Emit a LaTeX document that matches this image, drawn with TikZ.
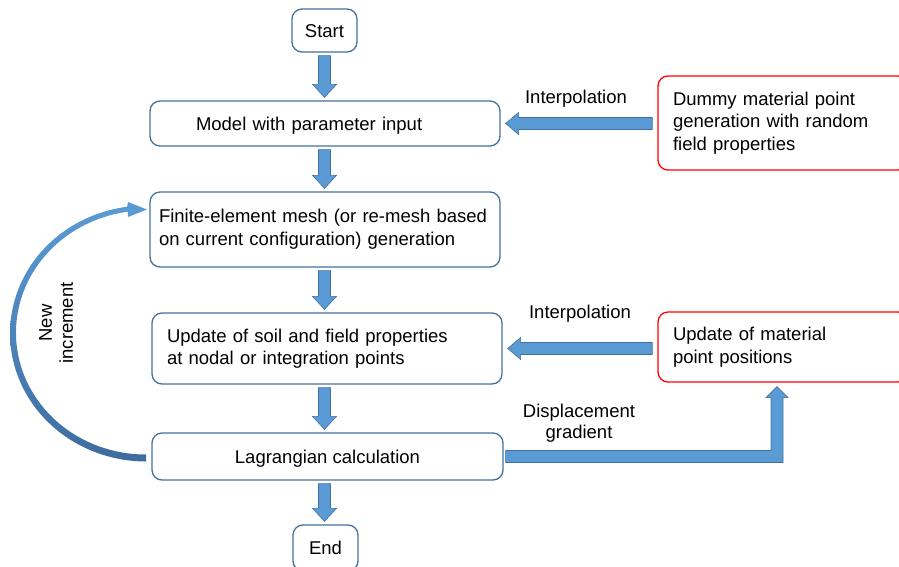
\documentclass[tikz,border=0pt]{standalone}
\usepackage{fontspec}
\setmainfont{Liberation Sans}
\usetikzlibrary{calc}
\definecolor{boxblue}{RGB}{65,113,156}
\definecolor{arrowfill}{RGB}{91,155,213}
\definecolor{arrowline}{RGB}{65,113,156}
\definecolor{arrowdark}{RGB}{62,108,160}
\definecolor{boxred}{RGB}{255,0,0}
\tikzset{
 box/.style={draw=boxblue, line width=1.3pt, rounded corners=10pt, font=\fontsize{18.5}{22.5}\selectfont, inner ysep=0pt},
 redbox/.style={box, draw=boxred},
 blockarrow/.style={fill=arrowfill, draw=arrowline, line width=0.6pt, line join=miter},
 lbl/.style={font=\fontsize{18.5}{21}\selectfont, inner sep=0pt}
}
\newcommand{\vblockarrow}[2]{%
 \path[blockarrow] let \p0=(start.center), \p1=(#1.south), \p2=(#2.north) in
 (\x0-6pt,\y1-3pt) -- (\x0-6pt,\y2+16pt) -- (\x0-12pt,\y2+16pt) -- (\x0,\y2+3pt)
 -- (\x0+12pt,\y2+16pt) -- (\x0+6pt,\y2+16pt) -- (\x0+6pt,\y1-3pt) -- cycle;}
\newcommand{\hblockarrow}[2]{%
 \path[blockarrow] let \p1=(#1.west), \p2=(#2.east), \p3=(#2.center) in
 (\x1-5pt,\y3+6pt) -- (\x2+18pt,\y3+6pt) -- (\x2+18pt,\y3+11pt) -- (\x2+5pt,\y3)
 -- (\x2+18pt,\y3-11pt) -- (\x2+18pt,\y3-6pt) -- (\x1-5pt,\y3-6pt) -- cycle;}
\begin{document}
\begin{tikzpicture}[x=1pt,y=-1pt]
\useasboundingbox (0,0) rectangle (899,567);
\clip (0,0) rectangle (899,567);
% main column
\node[box, minimum width=65pt, minimum height=43pt, text height=15pt, text depth=0pt] (start) at (324.5,30.5) {Start};
\node[box, minimum height=45pt, inner xsep=46pt, text width=258pt, align=left, text height=16pt, text depth=1pt] (model) at (325,123.5) {Model with parameter input};
\node[box, minimum height=75pt, inner xsep=9pt, text width=332pt, align=left] (fem) at (325,229.5) {\raisebox{2pt}{\begin{tabular}{@{}l@{}}Finite-element mesh (or re-mesh based\\on current configuration) generation\end{tabular}}};
\node[box, minimum height=71pt, inner xsep=15pt, text width=320pt, align=left] (upd) at (327,348.5) {Update of soil and field properties\\at nodal or integration points};
\node[box, minimum width=351pt, minimum height=47pt, text height=14pt, text depth=1pt] (lag) at (327.5,456.5) {Lagrangian calculation};
\node[box, minimum width=65pt, minimum height=46pt, text height=13pt, text depth=0pt] (end) at (325.5,548) {End};
% right column
\node[redbox, minimum height=94pt, inner xsep=15pt, text width=220pt, align=left] (dummy) at (783,123) {Dummy material point\\generation with random\\field properties};
\node[redbox, minimum height=70pt, inner xsep=15pt, text width=220pt, align=left] (mat) at (783,347) {Update of material\\point positions};
% vertical block arrows
\vblockarrow{start}{model}
\vblockarrow{model}{fem}
\vblockarrow{fem}{upd}
\vblockarrow{upd}{lag}
\vblockarrow{lag}{end}
% horizontal block arrows
\hblockarrow{dummy}{model}
\hblockarrow{mat}{upd}
% elbow arrow
\coordinate (bend) at (777,456.5);
\path[blockarrow] let \p1=(lag.east), \p2=(bend), \p3=(mat.south) in
 (\x1+2pt,\y1+6pt) -- (\x2-6pt,\y1+6pt) -- (\x2-6pt,\y3-15pt) -- (\x2-11pt,\y3-15pt)
 -- (\x2,\y3-4pt) -- (\x2+11pt,\y3-15pt) -- (\x2+6pt,\y3-15pt) -- (\x2+6pt,\y1-6pt)
 -- (\x1+2pt,\y1-6pt) -- cycle;
% curved arrow (new increment)
\shade[top color=arrowfill, bottom color=arrowdark]
 plot[domain=0:172, samples=90, smooth] ({146-(136.5-\x/172)*sin(\x)},{333+(128.5-\x/172)*cos(\x)})
 -- (128,202) -- (147,209.5) -- (128,217)
 -- plot[domain=172:0, samples=90, smooth] ({146-(129.5+\x/172)*sin(\x)},{333+(121.5+\x/172)*cos(\x)})
 -- cycle;
% labels
\node[lbl] (interpA) at (576,99) {Interpolation};
\node[lbl] (interpB) at (580,314) {Interpolation};
\node[lbl, align=center] (disp) at (579,423) {Displacement\\gradient};
\node[lbl, align=center, rotate=90] (newinc) at (56,323) {New\\increment};
\end{tikzpicture}
\end{document}
